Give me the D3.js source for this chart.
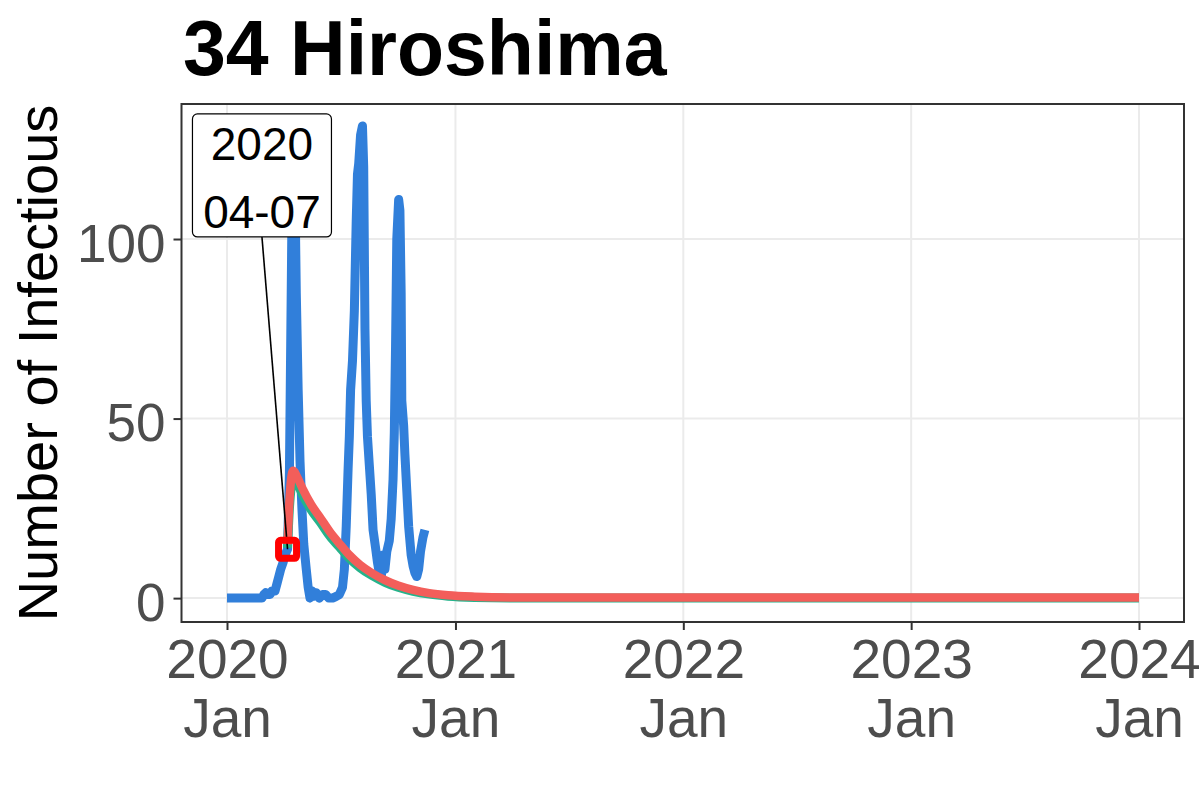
<!DOCTYPE html>
<html lang="en">

<head>
    <meta charset="UTF-8">
    <script src="https://d3js.org/d3.v7.min.js"></script>
    <title>34 Hiroshima</title>
    <style>
        body {
            margin: 0;
            background: #fff;
        }

        svg {
            font-family: "Liberation Sans", Arial, sans-serif;
        }
    </style>
</head>

<body>
    <svg width="1200" height="800"></svg>
</body>
<script>
    // observed number of infectious (blue)
    const blueDates = ["2020-01-01", "2020-02-26", "2020-02-29", "2020-03-03", "2020-03-07", "2020-03-10", "2020-03-13", "2020-03-18", "2020-03-21", "2020-03-24", "2020-03-27", "2020-03-31", "2020-04-03", "2020-04-07", "2020-04-10", "2020-04-12", "2020-04-14", "2020-04-16", "2020-04-19", "2020-04-21", "2020-04-24", "2020-04-27", "2020-04-30", "2020-05-03", "2020-05-07", "2020-05-10", "2020-05-13", "2020-05-16", "2020-05-19", "2020-05-23", "2020-05-28", "2020-06-02", "2020-06-07", "2020-06-12", "2020-06-18", "2020-06-24", "2020-06-29", "2020-07-04", "2020-07-07", "2020-07-10", "2020-07-13", "2020-07-15", "2020-07-17", "2020-07-20", "2020-07-23", "2020-07-26", "2020-07-28", "2020-07-30", "2020-08-02", "2020-08-05", "2020-08-07", "2020-08-09", "2020-08-11", "2020-08-13", "2020-08-16", "2020-08-19", "2020-08-22", "2020-08-26", "2020-08-29", "2020-09-01", "2020-09-04", "2020-09-07", "2020-09-10", "2020-09-13", "2020-09-17", "2020-09-20", "2020-09-23", "2020-09-25", "2020-09-27", "2020-09-29", "2020-10-02", "2020-10-04", "2020-10-06", "2020-10-07", "2020-10-10", "2020-10-12", "2020-10-15", "2020-10-18", "2020-10-22", "2020-10-25", "2020-10-28", "2020-10-31", "2020-11-03", "2020-11-06", "2020-11-10", "2020-11-13"]
    const blueValues = [0, 0, 1, 1.5, 1, 1, 2, 2, 4, 6, 8, 10, 12, 13.6, 35, 70, 105, 118, 112, 85, 58, 38, 25, 15, 8, 3, 0, 2, 0.5, 1.5, 0, 1, 1, 0, 0, 0.5, 1, 3, 8, 20, 36, 45, 58, 66, 80, 105, 118, 121, 129, 131.5, 120, 75, 55, 45, 37, 29, 19, 14, 10, 7, 5.5, 12, 8, 13, 16, 22, 33, 46, 70, 100, 111, 108, 85, 55, 48, 40, 30, 20, 12, 9, 7, 6, 8, 13, 17, 19]

    // model curves (red, green) from 2020-04-07
    const fitDates = ["2020-04-07", "2020-04-10", "2020-04-13", "2020-04-16", "2020-04-23", "2020-05-01", "2020-05-15", "2020-05-29", "2020-06-14", "2020-07-01", "2020-07-15", "2020-08-01", "2020-08-20", "2020-09-10", "2020-10-01", "2020-10-25", "2020-11-20", "2020-12-20", "2021-02-01", "2021-04-01", "2022-01-01", "2023-01-01", "2024-01-01"]
    const redValues = [15, 27, 33.5, 35.5, 33.5, 30.5, 26, 22.5, 18.4, 14.8, 12, 9.3, 7, 5, 3.5, 2.3, 1.4, 0.8, 0.4, 0.2, 0.15, 0.15, 0.15]
    const greenValues = [14, 25, 31, 33, 31.8, 28.8, 24.5, 21.2, 17.2, 13.8, 11.1, 8.5, 6.3, 4.4, 3, 1.9, 1.1, 0.55, 0.2, 0.05, 0, 0, 0]

    // annotation
    const markerDate = "2020-04-07"
    const markerValue = 13.6
    const labelLines = ["2020", "04-07"]
    const labelDate = "2020-02-26"
    const labelValue = 117.7

    // axes
    const xTicks = ["2020-01-01", "2021-01-01", "2022-01-01", "2023-01-01", "2024-01-01"]
    const yTicks = [0, 50, 100]

    const parse = d3.timeParse("%Y-%m-%d")
    const panel = { left: 181.5, right: 1184, top: 104, bottom: 622 }

    const xScale = d3.scaleTime()
        .domain([parse("2020-01-01"), parse("2024-01-01")])
        .range([227, 1139])
    const yScale = d3.scaleLinear()
        .domain([-6.65, 137.6])
        .range([panel.bottom, panel.top])

    const svg = d3.select("svg")

    // title
    svg.append("text")
        .attr("x", 183)
        .attr("y", 75)
        .attr("font-size", 77)
        .attr("font-weight", "bold")
        .attr("fill", "#000")
        .text("34 Hiroshima")

    // y axis title
    svg.append("text")
        .attr("transform", `translate(57, ${(panel.top + panel.bottom) / 2}) rotate(-90)`)
        .attr("text-anchor", "middle")
        .attr("font-size", 56)
        .attr("fill", "#000")
        .text("Number of Infectious")

    // grid
    const grid = svg.append("g")
    grid.selectAll(".gx")
        .data(xTicks.map(parse))
        .enter()
        .append("line")
        .attr("x1", d => xScale(d))
        .attr("x2", d => xScale(d))
        .attr("y1", panel.top)
        .attr("y2", panel.bottom)
        .attr("stroke", "#ebebeb")
        .attr("stroke-width", 2)
    grid.selectAll(".gy")
        .data(yTicks)
        .enter()
        .append("line")
        .attr("x1", panel.left)
        .attr("x2", panel.right)
        .attr("y1", d => yScale(d))
        .attr("y2", d => yScale(d))
        .attr("stroke", "#ebebeb")
        .attr("stroke-width", 2)

    // lines
    const blueData = blueDates.map((d, i) => ({ date: parse(d), value: blueValues[i] }))
    const redData = fitDates.map((d, i) => ({ date: parse(d), value: redValues[i] }))
    const greenData = fitDates.map((d, i) => ({ date: parse(d), value: greenValues[i] }))

    const line = d3.line()
        .x(d => xScale(d.date))
        .y(d => yScale(d.value))
    const smooth = d3.line()
        .x(d => xScale(d.date))
        .y(d => yScale(d.value))
        .curve(d3.curveMonotoneX)

    svg.append("path")
        .datum(blueData)
        .attr("d", line)
        .attr("fill", "none")
        .attr("stroke", "#317fda")
        .attr("stroke-width", 9)
        .attr("stroke-linejoin", "round")
    svg.append("path")
        .datum(greenData)
        .attr("d", smooth)
        .attr("fill", "none")
        .attr("stroke", "#25b38b")
        .attr("stroke-width", 9)
        .attr("stroke-linejoin", "round")
    svg.append("path")
        .datum(redData)
        .attr("d", smooth)
        .attr("fill", "none")
        .attr("stroke", "#f35e5a")
        .attr("stroke-width", 8.5)
        .attr("stroke-linejoin", "round")

    // label with connector
    const lx = xScale(parse(labelDate))
    const ly = yScale(labelValue)
    const boxW = 139
    const boxH = 123
    const mx = xScale(parse(markerDate))
    const my = yScale(markerValue)

    svg.append("line")
        .attr("x1", lx)
        .attr("y1", ly + boxH / 2)
        .attr("x2", mx)
        .attr("y2", my)
        .attr("stroke", "#000")
        .attr("stroke-width", 1.6)

    svg.append("rect")
        .attr("x", lx - boxW / 2)
        .attr("y", ly - boxH / 2)
        .attr("width", boxW)
        .attr("height", boxH)
        .attr("rx", 5)
        .attr("fill", "#fff")
        .attr("stroke", "#000")
        .attr("stroke-width", 1.2)
    svg.selectAll(".lbl")
        .data(labelLines)
        .enter()
        .append("text")
        .attr("x", lx)
        .attr("y", (d, i) => ly - 15 + i * 68)
        .attr("text-anchor", "middle")
        .attr("font-size", 46)
        .attr("fill", "#000")
        .text(d => d)

    // marker
    svg.append("rect")
        .attr("x", mx - 9)
        .attr("y", my - 9)
        .attr("width", 18)
        .attr("height", 18)
        .attr("rx", 2)
        .attr("fill", "none")
        .attr("stroke", "#ff0000")
        .attr("stroke-width", 7)

    // panel border
    svg.append("rect")
        .attr("x", panel.left)
        .attr("y", panel.top)
        .attr("width", panel.right - panel.left)
        .attr("height", panel.bottom - panel.top)
        .attr("fill", "none")
        .attr("stroke", "#333")
        .attr("stroke-width", 2)

    // axes
    const xAxis = d3.axisBottom(xScale)
        .tickValues(xTicks.map(parse))
        .tickSize(8)
        .tickPadding(0)
    const xg = svg.append("g")
        .attr("transform", `translate(0, ${panel.bottom})`)
        .call(xAxis)
    xg.select(".domain").remove()
    xg.selectAll(".tick line").attr("stroke", "#333").attr("stroke-width", 2)
    xg.selectAll(".tick text").each(function (d) {
        const t = d3.select(this)
        t.text(null).attr("dy", null).attr("y", null)
            .attr("font-size", 55)
            .attr("fill", "#4d4d4d")
            .attr("font-family", "'Liberation Sans', Arial, sans-serif")
        t.append("tspan").attr("x", 0).attr("y", 56).text(d3.timeFormat("%Y")(d))
        t.append("tspan").attr("x", 0).attr("y", 115).text(d3.timeFormat("%b")(d))
    })

    const yAxis = d3.axisLeft(yScale)
        .tickValues(yTicks)
        .tickSize(8)
        .tickPadding(8)
    const yg = svg.append("g")
        .attr("transform", `translate(${panel.left}, 0)`)
        .call(yAxis)
    yg.select(".domain").remove()
    yg.selectAll(".tick line").attr("stroke", "#333").attr("stroke-width", 2)
    yg.selectAll(".tick text")
        .attr("dy", "0.42em")
        .attr("font-size", 53)
        .attr("fill", "#4d4d4d")
        .attr("font-family", "'Liberation Sans', Arial, sans-serif")
</script>

</html>
